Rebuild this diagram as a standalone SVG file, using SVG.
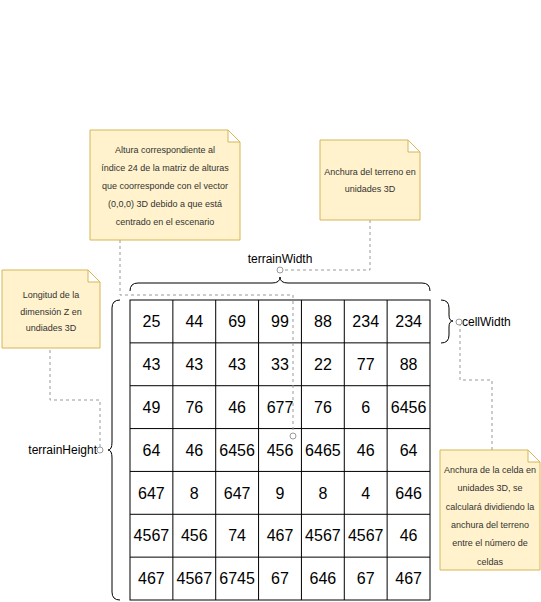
<svg xmlns="http://www.w3.org/2000/svg" width="541" height="602" viewBox="0 0 541 602">
<style>
.note{fill:#fff2cc;stroke:#d6b656;stroke-width:1}
.nt{font-family:"Liberation Sans",Arial,sans-serif;font-size:9px;fill:#333;text-anchor:middle}
.cell{fill:#fff;stroke:#000;stroke-width:1}
.ct{font-family:"Liberation Sans",Arial,sans-serif;font-size:16px;fill:#000;text-anchor:middle}
.lbl{font-family:"Liberation Sans",Arial,sans-serif;font-size:12px;fill:#000}
.brace{fill:none;stroke:#000;stroke-width:1}
.dash{fill:none;stroke:#999;stroke-width:1;stroke-dasharray:3 3}
.dot{fill:#fff;stroke:#999;stroke-width:1}
</style>
<g id="grid">
<rect class="cell" x="130" y="300" width="300" height="300"/>
<path class="brace" d="M172.86,300V600M215.71,300V600M258.57,300V600M301.43,300V600M344.29,300V600M387.14,300V600M130,342.86H430M130,385.71H430M130,428.57H430M130,471.43H430M130,514.29H430M130,557.14H430"/>
<g class="ct">
<text x="151.4" y="327">25</text><text x="194.3" y="327">44</text><text x="237.1" y="327">69</text><text x="280" y="327">99</text><text x="322.9" y="327">88</text><text x="365.7" y="327">234</text><text x="408.6" y="327">234</text>
<text x="151.4" y="370">43</text><text x="194.3" y="370">43</text><text x="237.1" y="370">43</text><text x="280" y="370">33</text><text x="322.9" y="370">22</text><text x="365.7" y="370">77</text><text x="408.6" y="370">88</text>
<text x="151.4" y="412.8">49</text><text x="194.3" y="412.8">76</text><text x="237.1" y="412.8">46</text><text x="280" y="412.8">677</text><text x="322.9" y="412.8">76</text><text x="365.7" y="412.8">6</text><text x="408.6" y="412.8">6456</text>
<text x="151.4" y="455.6">64</text><text x="194.3" y="455.6">46</text><text x="237.1" y="455.6">6456</text><text x="280" y="455.6">456</text><text x="322.9" y="455.6">6465</text><text x="365.7" y="455.6">46</text><text x="408.6" y="455.6">64</text>
<text x="151.4" y="498.5">647</text><text x="194.3" y="498.5">8</text><text x="237.1" y="498.5">647</text><text x="280" y="498.5">9</text><text x="322.9" y="498.5">8</text><text x="365.7" y="498.5">4</text><text x="408.6" y="498.5">646</text>
<text x="151.4" y="541.4">4567</text><text x="194.3" y="541.4">456</text><text x="237.1" y="541.4">74</text><text x="280" y="541.4">467</text><text x="322.9" y="541.4">4567</text><text x="365.7" y="541.4">4567</text><text x="408.6" y="541.4">46</text>
<text x="151.4" y="584.2">467</text><text x="194.3" y="584.2">4567</text><text x="237.1" y="584.2">6745</text><text x="280" y="584.2">67</text><text x="322.9" y="584.2">646</text><text x="365.7" y="584.2">67</text><text x="408.6" y="584.2">467</text>
</g>
</g>
<g id="connectors">
<path class="dash" d="M120,240 L120,295 L293,295 L293,433"/>
<path class="dash" d="M370,220 L370,270 L283,270"/>
<path class="dash" d="M50,350 L50,400 L100,400 L100,447"/>
<path class="dash" d="M492,450 L492,380 L460,380 L460,325"/>
</g>
<g id="terrainWidth">
<path class="brace" d="M130,291 Q130,283 138,283 L272,283 Q280,283 280,277 Q280,283 288,283 L422,283 Q430,283 430,291"/>
<text class="lbl" x="280" y="263" text-anchor="middle">terrainWidth</text>
<circle class="dot" cx="280" cy="270" r="3"/>
</g>
<g id="terrainHeight">
<path class="brace" d="M120,300 Q112,300 112,308 L112,442 Q112,450 108,450 Q112,450 112,458 L112,592 Q112,600 120,600"/>
<text class="lbl" x="97" y="454" text-anchor="end">terrainHeight</text>
<circle class="dot" cx="100" cy="450" r="3"/>
</g>
<g id="cellWidth">
<path class="brace" d="M441,300 Q449,300 449,308 L449,315 Q449,321 453,321 Q449,321 449,327 L449,335 Q449,343 441,343"/>
<text class="lbl" x="462" y="326">cellWidth</text>
<circle class="dot" cx="459" cy="322" r="3"/>
</g>
<circle class="dot" cx="293" cy="436" r="3"/>
<g id="note1">
<path class="note" d="M90,130 H228 L240,142 V240 H90 Z M228,130 V142 H240"/>
<text class="nt" x="165" y="153">Altura correspondiente al</text>
<text class="nt" x="165" y="171">índice 24 de la matriz de alturas</text>
<text class="nt" x="165" y="189">que coorresponde con el vector</text>
<text class="nt" x="165" y="207">(0,0,0) 3D debido a que está</text>
<text class="nt" x="165" y="225">centrado en el escenario</text>
</g>
<g id="note2">
<path class="note" d="M320,140 H408 L420,152 V220 H320 Z M408,140 V152 H420"/>
<text class="nt" x="370" y="175">Anchura del terreno en</text>
<text class="nt" x="370" y="192">unidades 3D</text>
</g>
<g id="note3">
<path class="note" d="M2,270 H88 L100,282 V348 H2 Z M88,270 V282 H100"/>
<text class="nt" x="51" y="298">Longitud de la</text>
<text class="nt" x="51" y="315">dimensión Z en</text>
<text class="nt" x="51" y="331">undiades 3D</text>
</g>
<g id="note4">
<path class="note" d="M440,450 H528 L540,462 V570 H440 Z M528,450 V462 H540"/>
<text class="nt" x="490" y="473">Anchura de la celda en</text>
<text class="nt" x="490" y="491">unidades 3D, se</text>
<text class="nt" x="490" y="510">calculará dividiendo la</text>
<text class="nt" x="490" y="528">anchura del terreno</text>
<text class="nt" x="490" y="546">entre el número de</text>
<text class="nt" x="490" y="565">celdas</text>
</g>
</svg>
